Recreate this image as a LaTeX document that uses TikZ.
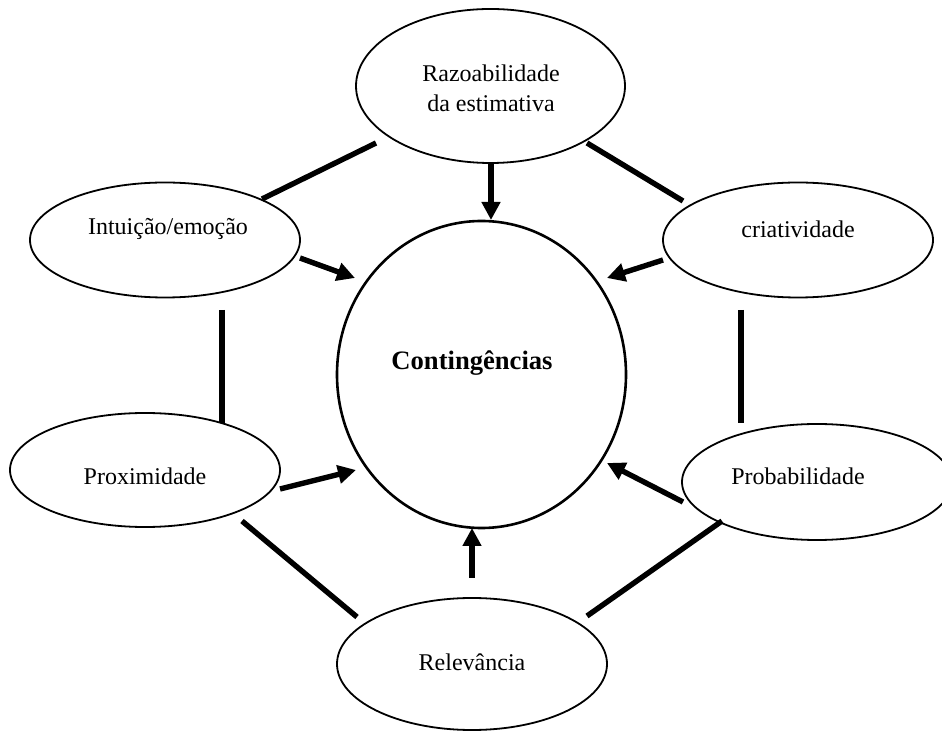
\documentclass[tikz,border=0pt]{standalone}
\usepackage{fontspec}
\setmainfont{Liberation Serif}
\usetikzlibrary{shapes.geometric,arrows.meta}
\begin{document}
\begin{tikzpicture}[x=0.5pt,y=-0.5pt,
  bub/.style={draw, ellipse, inner sep=0pt, line width=0.9pt},
  lbl/.style={font=\fontsize{12}{15}\selectfont, align=center, inner sep=0pt},
  link/.style={line width=2.7pt},
  arr/.style={line width=2.7pt, -{Triangle[length=9pt,width=9pt]}}]
\useasboundingbox (0,0) rectangle (942,731);
% ellipses
\node[bub, minimum width=134.5pt, minimum height=77pt] (top) at (490.5,86) {};
\node[bub, minimum width=135pt, minimum height=57.5pt] (intu) at (165,240) {};
\node[bub, minimum width=135pt, minimum height=57.5pt] (cria) at (798,240) {};
\node[bub, minimum width=135pt, minimum height=57pt] (prox) at (145,470) {};
\node[bub, minimum width=135pt, minimum height=58pt] (prob) at (817,482) {};
\node[bub, minimum width=135pt, minimum height=66pt] (rel) at (472,664) {};
\node[bub, line width=1.3pt, minimum width=144.5pt, minimum height=153.5pt] (ctr) at (481.5,374.5) {};
% labels
\node[lbl] (ttop) at (491,88) {Razoabilidade\\da estimativa};
\node[lbl] (tintu) at (168,229) {Intuição/emoção};
\node[lbl] (tcria) at (798,229) {criatividade};
\node[lbl] (tprox) at (145,476) {Proximidade};
\node[lbl] (tprob) at (798,476) {Probabilidade};
\node[lbl] (trel) at (472,662) {Relevância};
\node[lbl, font=\fontsize{13.3}{16}\selectfont\bfseries] (tctr) at (472,363) {Contingências};
% connector end points
\coordinate (l1a) at (262,199); \coordinate (l1b) at (376,143);
\coordinate (l2a) at (587,143); \coordinate (l2b) at (683,201);
\coordinate (l3a) at (222,310); \coordinate (l3b) at (222,423);
\coordinate (l4a) at (741,310); \coordinate (l4b) at (741,423);
\coordinate (l5a) at (242,521); \coordinate (l5b) at (357,617);
\coordinate (l6a) at (722,521); \coordinate (l6b) at (587,616);
\coordinate (a1a) at (491,163); \coordinate (a1b) at (491,220);
\coordinate (a2a) at (300,258); \coordinate (a2b) at (355,278);
\coordinate (a3a) at (663,260); \coordinate (a3b) at (607,278);
\coordinate (a4a) at (280,489); \coordinate (a4b) at (356,470);
\coordinate (a5a) at (683,502); \coordinate (a5b) at (607,463);
\coordinate (a6a) at (472,578); \coordinate (a6b) at (472,528);
% links
\draw[link] (l1a) -- (l1b);
\draw[link] (l2a) -- (l2b);
\draw[link] (l3a) -- (l3b);
\draw[link] (l4a) -- (l4b);
\draw[link] (l5a) -- (l5b);
\draw[link] (l6a) -- (l6b);
% arrows
\draw[arr] (a1a) -- (a1b);
\draw[arr] (a2a) -- (a2b);
\draw[arr] (a3a) -- (a3b);
\draw[arr] (a4a) -- (a4b);
\draw[arr] (a5a) -- (a5b);
\draw[arr] (a6a) -- (a6b);
\end{tikzpicture}
\end{document}
